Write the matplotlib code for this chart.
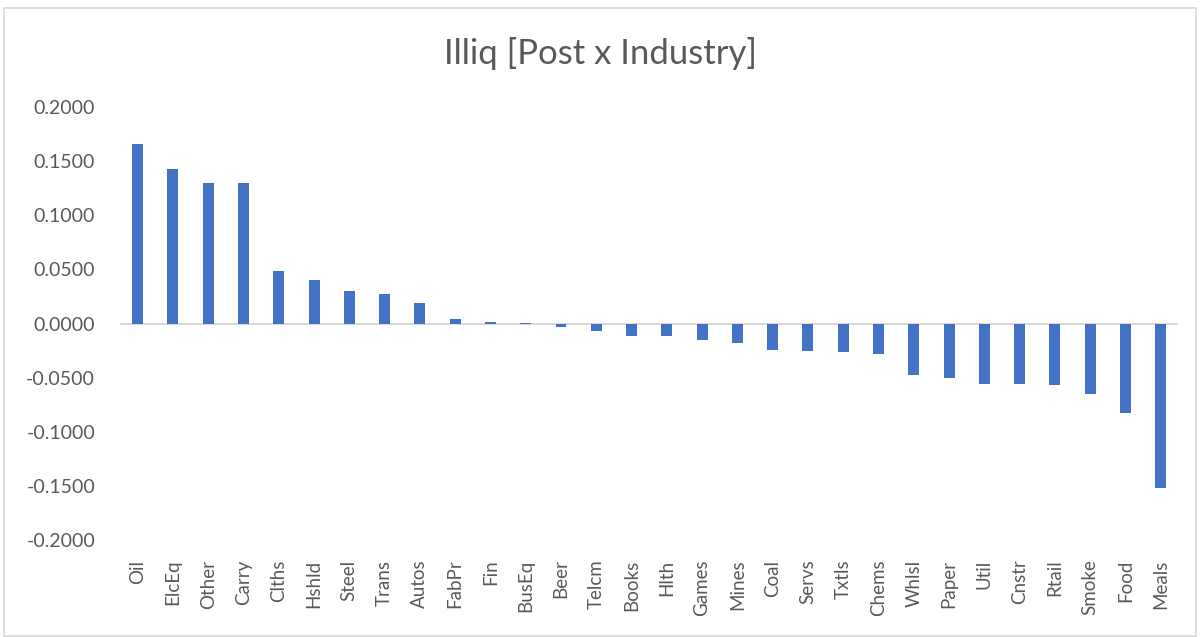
import matplotlib
matplotlib.use("Agg")
import matplotlib.pyplot as plt
from matplotlib.patches import Rectangle

industries = ["Oil", "ElcEq", "Other", "Carry", "Clths", "Hshld", "Steel", "Trans", "Autos",
              "FabPr", "Fin", "BusEq", "Beer", "Telcm", "Books", "Hlth", "Games", "Mines",
              "Coal", "Servs", "Txtls", "Chems", "Whlsl", "Paper", "Util", "Cnstr", "Rtail",
              "Smoke", "Food", "Meals"]
values = [0.1662, 0.1428, 0.1301, 0.1300, 0.0485, 0.0405, 0.0300, 0.0273, 0.0187,
          0.0045, 0.0015, 0.0003, -0.0030, -0.0065, -0.0114, -0.0112, -0.0148, -0.0180,
          -0.0241, -0.0250, -0.0262, -0.0284, -0.0472, -0.0503, -0.0555, -0.0558, -0.0564,
          -0.0647, -0.0823, -0.1516]
yticks = [0.2, 0.15, 0.1, 0.05, 0.0, -0.05, -0.1, -0.15, -0.2]

plt.rcParams['font.family'] = ['Lato', 'DejaVu Sans']
grey = '#595959'

fig = plt.figure(figsize=(12, 6.37), dpi=100)
ax = fig.add_axes([0.1, 0.152, 0.882, 0.68])

x = list(range(len(industries)))
ax.bar(x, values, width=0.31, color='#4472C4', zorder=2)
ax.axhline(0, color='#D9D9D9', lw=1.5, zorder=1)

ax.set_xlim(-0.5, len(industries) - 0.5)
ax.set_ylim(-0.2, 0.2)
ax.set_yticks(yticks)
ax.set_yticklabels([f"{v:.4f}" for v in yticks], fontsize=14, color=grey)
ax.set_xticks(x)
ax.set_xticklabels(industries, rotation=90, fontsize=13.5, color=grey)
ax.tick_params(axis='both', length=0)
ax.tick_params(axis='y', pad=18)
ax.tick_params(axis='x', pad=14)
for s in ax.spines.values():
    s.set_visible(False)

fig.text(0.5, 0.916, "Illiq [Post x Industry]", ha='center', va='center',
         fontsize=25, color=grey, fontweight='normal')

fig.patches.append(Rectangle((0.003, 0.002), 0.994, 0.986, transform=fig.transFigure,
                             fill=False, edgecolor='#D9D9D9', lw=1.2))

fig.savefig("out.png", dpi=100)
